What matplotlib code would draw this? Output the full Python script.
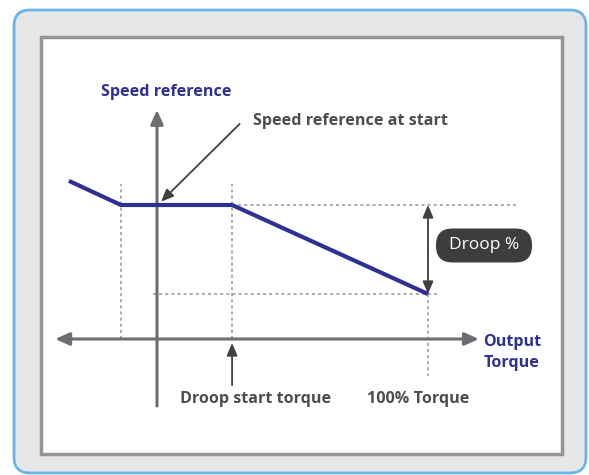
import matplotlib
matplotlib.use("Agg")
import matplotlib.pyplot as plt
from matplotlib.patches import FancyBboxPatch

# ---- data (conceptual units: torque in %, speed reference in %) ----
torque = [-32.5, -13.3, 27.7, 100.0]
speed = [118.0, 100.0, 100.0, 33.6]
droop_start_torque = 27.7
full_torque = 100.0
y_label = "Speed reference"
x_label = "Output\nTorque"
ann_start = "Speed reference at start"
ann_droop_start = "Droop start torque"
ann_full = "100% Torque"
droop_label = "Droop %"

NAVY = "#2e3192"
AXGRAY = "#6d6e71"
DARK = "#414042"
TXT = "#4d4d4f"
DOT = "#939598"
FS = 11.6

W, H = 589, 475
fig = plt.figure(figsize=(W / 100, H / 100), dpi=100)
plt.rcParams['font.family'] = ['Open Sans', 'DejaVu Sans']

# background axes in pixel coordinates (decoration)
bg = fig.add_axes([0, 0, 1, 1])
bg.set_xlim(0, W)
bg.set_ylim(H, 0)
bg.axis("off")
bg.add_patch(FancyBboxPatch((14, 10), 572, 463, boxstyle="round,pad=0,rounding_size=16",
                            fc="#e6e7e8", ec="#6cb4e4", lw=2))
bg.add_patch(plt.Rectangle((41, 37), 521, 417, fc="white", ec="#939598", lw=2.5))

# data axes: mapping torque/speed to pixels
x0_px, sx = 157.0, 2.71   # pixel x of torque 0, px per unit
y0_px, sy = 339.0, 1.34   # pixel y of speed 0, px per unit
ax = fig.add_axes([0, 0, 1, 1], facecolor="none")
ax.set_xlim(-x0_px / sx, (W - x0_px) / sx)
ax.set_ylim(-(H - y0_px) / sy, y0_px / sy)
ax.axis("off")

# axes arrows
arrow_kw = dict(arrowstyle="-|>,head_length=0.85,head_width=0.38", color=AXGRAY, lw=2.2,
                shrinkA=0, shrinkB=0)
ax.annotate("", xy=(0, 171), xytext=(0, -50), arrowprops=arrow_kw)
ax.annotate("", xy=(-37.6, 0), xytext=(0, 0), arrowprops=arrow_kw)
ax.annotate("", xy=(118.8, 0), xytext=(0, 0), arrowprops=arrow_kw)

# dotted guides
dkw = dict(color=DOT, lw=1.1, ls=(0, (2, 2)))
ax.plot([torque[1], torque[1]], [0, 134 / 1.34 + 16], **dkw)
ax.plot([droop_start_torque, droop_start_torque], [0, 116], **dkw)
ax.plot([droop_start_torque, 132.5], [speed[2], speed[2]], **dkw)
ax.plot([-1.5, 103.5], [speed[3], speed[3]], **dkw)
ax.plot([full_torque, full_torque], [speed[3], -27.5], **dkw)

# main line
ax.plot(torque, speed, color=NAVY, lw=3, solid_capstyle="butt", solid_joinstyle="miter", zorder=5)

# droop double arrow
dk = dict(arrowstyle="-|>,head_length=0.75,head_width=0.32", color=DARK, lw=1.3, shrinkA=0, shrinkB=0)
mid = (speed[2] + speed[3]) / 2
ax.annotate("", xy=(full_torque, speed[2]), xytext=(full_torque, mid), arrowprops=dk)
ax.annotate("", xy=(full_torque, speed[3]), xytext=(full_torque, mid), arrowprops=dk)

# droop label box (pixel geometry derived from the data mapping)
bx = x0_px + sx * full_torque + 56
by = y0_px - sy * mid - 4
bg.add_patch(FancyBboxPatch((bx - 48, by - 17), 96, 34, boxstyle="round,pad=0,rounding_size=16.5",
                            fc="#3d3d3d", ec="none", zorder=6))
bg.text(bx, by, droop_label, color="white", fontsize=12.5, ha="center", va="center", zorder=7)

# annotation: speed reference at start
ax.annotate("", xy=(1.5, 102.5), xytext=(30.5, 160.5),
            arrowprops=dict(arrowstyle="-|>,head_length=0.75,head_width=0.32", color=DARK, lw=1.3,
                            shrinkA=0, shrinkB=0))
ax.text(35.5, 162.5, ann_start, color=TXT, fontsize=FS, fontweight="bold", ha="left", va="center")

# annotation: droop start torque
ax.annotate("", xy=(droop_start_torque, -3), xytext=(droop_start_torque, -34.5),
            arrowprops=dict(arrowstyle="-|>,head_length=0.75,head_width=0.32", color=DARK, lw=1.3,
                            shrinkA=0, shrinkB=0))
ax.text(droop_start_torque + 8.5, -44.5, ann_droop_start, color=TXT, fontsize=FS, fontweight="bold",
        ha="center", va="center")
ax.text(full_torque - 3.5, -44.5, ann_full, color=TXT, fontsize=FS, fontweight="bold",
        ha="center", va="center")

# axis labels
ax.text(3.5, 184.5, y_label, color=NAVY, fontsize=FS, fontweight="bold", ha="center", va="center")
ax.text(120.5, -10.2, x_label, color=NAVY, fontsize=FS, fontweight="bold", ha="left", va="center",
        linespacing=1.4)

fig.savefig("out.png", dpi=100)
